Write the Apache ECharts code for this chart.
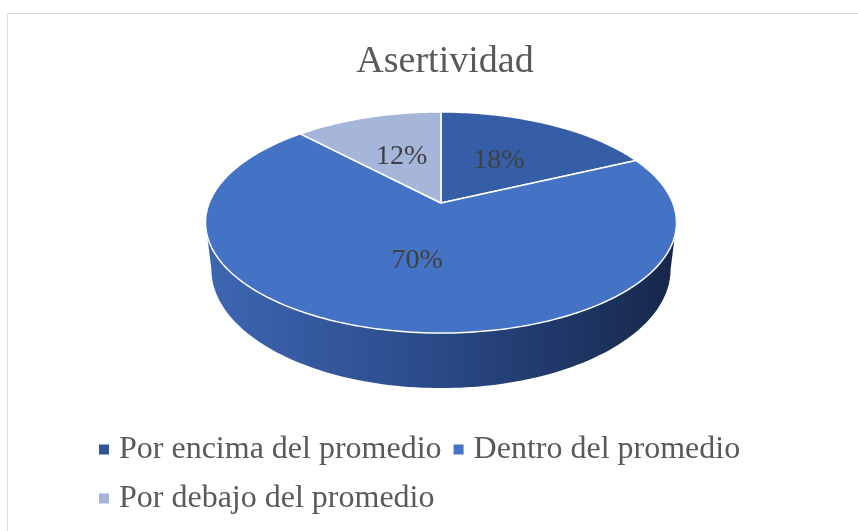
<!DOCTYPE html>
<html><head><meta charset="utf-8">
<script src="https://cdn.jsdelivr.net/npm/echarts@6/dist/echarts.min.js"></script>
<style>html,body{margin:0;padding:0;background:#fff}#c{width:858px;height:531px}</style>
</head><body><div id="c"></div>
<script>
const titleText = 'Asertividad';
const categories = ['Por encima del promedio', 'Dentro del promedio', 'Por debajo del promedio'];
const values = [18, 70, 12];
const sliceColors = ['#355ea6', '#4472c4', '#a6b5da'];
const legendColors = ['#2f5597', '#4472c4', '#a5b4d8'];

const FONT = "'Liberation Serif', 'Times New Roman', serif";
const CX = 441, VY = 203, S = 231.8, A = 107.1, K = 0.1765, DEPTH = 55;

function proj(theta, r) {
  const X = r * Math.sin(theta), Z = r * Math.cos(theta);
  const d = 1 + K * Z;
  return [CX + S * X / d, VY - A * Z / d];
}
function projBottom(theta) {
  const p = proj(theta, 1);
  const Z = Math.cos(theta);
  return [CX + (p[0] - CX) * 0.975, p[1] + DEPTH * (1 - K) / (1 + K * Z)];
}

const sideGradient = new echarts.graphic.LinearGradient(206, 0, 676, 0, [
  { offset: 0, color: '#3e66b2' },
  { offset: 0.45, color: '#2c4c8c' },
  { offset: 1, color: '#16274a' }
], true);

function makeRender(i) {
  return function (params, api) {
    const v = api.value(0);
    const total = values.reduce((a, b) => a + b, 0);
    let start = 0;
    for (let j = 0; j < i; j++) start += values[j];
    const a0 = start / total * 2 * Math.PI;
    const a1 = (start + v) / total * 2 * Math.PI;
    const children = [];
    const vis0 = Math.acos(-K), vis1 = 2 * Math.PI - Math.acos(-K);
    const s0 = Math.max(a0, vis0), s1 = Math.min(a1, vis1);
    if (s1 > s0) {
      const pts = [];
      const n = 120;
      for (let t = 0; t <= n; t++) pts.push(proj(s0 + (s1 - s0) * t / n, 1));
      for (let t = n; t >= 0; t--) pts.push(projBottom(s0 + (s1 - s0) * t / n));
      children.push({ type: 'polygon', shape: { points: pts }, style: { fill: sideGradient } });
    }
    const top = [[CX, VY]];
    const n2 = Math.max(10, Math.ceil((a1 - a0) / (2 * Math.PI) * 300));
    for (let t = 0; t <= n2; t++) top.push(proj(a0 + (a1 - a0) * t / n2, 1));
    children.push({ type: 'polygon', shape: { points: top },
      style: { fill: sliceColors[i], stroke: '#ffffff', lineWidth: 1.5, lineJoin: 'round' } });
    const lp = proj((a0 + a1) / 2, 0.5);
    children.push({ type: 'text', style: {
      text: Math.round(v / total * 100) + '%', x: lp[0], y: lp[1],
      align: 'center', verticalAlign: 'middle', fill: '#404040',
      fontSize: 28, fontFamily: FONT } });
    return { type: 'group', children: children };
  };
}

const chart = echarts.init(document.getElementById('c'), null, { renderer: 'canvas' });
chart.setOption({
  animation: false,
  backgroundColor: '#ffffff',
  title: {
    text: titleText, left: 440, top: 38, textAlign: 'center',
    textStyle: { fontFamily: FONT, fontSize: 38, fontWeight: 'normal', color: '#595959' }
  },
  legend: {
    data: categories, left: 99, top: 431, width: 660, padding: 0,
    itemGap: 12, itemWidth: 10, itemHeight: 10, icon: 'rect',
    textStyle: { fontFamily: FONT, fontSize: 32, color: '#595959', lineHeight: 37, padding: [0, 0, 0, 5] }
  },
  graphic: [{
    type: 'rect', z: -10, silent: true,
    shape: { x: 7.5, y: 13.5, width: 900, height: 600 },
    style: { fill: 'none', stroke: '#d9d9d9', lineWidth: 1 }
  }],
  series: categories.map((name, i) => ({
    type: 'custom', name: name, coordinateSystem: 'none', silent: true,
    itemStyle: { color: legendColors[i] },
    renderItem: makeRender(i),
    data: [[values[i]]]
  }))
});
</script></body></html>
